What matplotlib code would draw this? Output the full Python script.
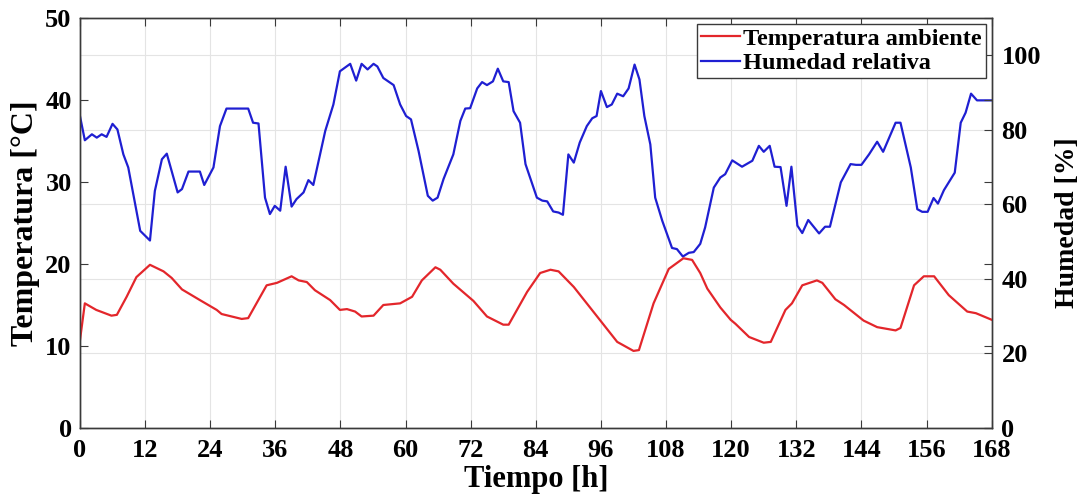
import matplotlib.pyplot as plt

plt.rcParams['font.family'] = ['Liberation Serif', 'DejaVu Serif']
plt.rcParams['font.weight'] = 'bold'

# temperature (left axis)
temp_h = [0, 0.9, 3, 5.8, 6.8, 8.6, 10.4, 12.9, 15.4, 16.9, 18.8, 22.1, 25.2, 26.1,
          29.8, 31.0, 34.4, 36.3, 39.0, 40.3, 41.8, 43.3, 46.1, 47.9, 49.2, 50.7,
          51.9, 54.1, 55.9, 59.0, 61.2, 63.0, 65.5, 66.4, 68.8, 72.5, 75.0, 78.0,
          79.0, 82.4, 84.8, 86.7, 88.2, 91.0, 95.3, 99.0, 102.0, 103.0, 105.7,
          108.5, 111.2, 112.8, 114.3, 115.6, 118.0, 119.9, 120.8, 123.3, 126.0,
          127.3, 130.0, 131.2, 133.1, 135.8, 136.8, 139.2, 140.8, 144.4, 146.9,
          150.3, 151.2, 153.7, 155.5, 157.4, 160.1, 163.5, 165.1, 168]
temp_v = [10.7, 15.2, 14.4, 13.7, 13.8, 16.0, 18.4, 19.9, 19.1, 18.3, 16.9, 15.6, 14.4, 13.9,
          13.3, 13.4, 17.4, 17.7, 18.5, 18.0, 17.8, 16.8, 15.6, 14.4, 14.5, 14.2,
          13.6, 13.7, 15.0, 15.2, 16.0, 18.0, 19.6, 19.3, 17.6, 15.5, 13.6, 12.6,
          12.6, 16.6, 18.9, 19.3, 19.1, 17.2, 13.6, 10.5, 9.4, 9.5, 15.2,
          19.4, 20.7, 20.5, 18.9, 17.0, 14.7, 13.2, 12.7, 11.1, 10.4,
          10.5, 14.4, 15.2, 17.4, 18.0, 17.7, 15.7, 15.0, 13.1, 12.3,
          11.9, 12.2, 17.4, 18.5, 18.5, 16.2, 14.2, 14.0, 13.2]

# relative humidity (right axis)
hum_h = [0, 0.9, 2.2, 3.1, 4.0, 4.9, 6.0, 6.9, 8.0, 8.9, 11.1, 12.9, 13.8, 15.1, 16.0,
         18.0, 18.8, 20.0, 22.1, 22.9, 24.6, 25.8, 27.0, 31.0, 31.9, 32.9, 34.1,
         35.0, 35.9, 36.9, 37.9, 39.0, 39.9, 41.2, 42.1, 43.0, 45.2, 46.7, 47.9,
         49.8, 50.9, 51.9, 53.0, 54.1, 54.8, 55.9, 57.8, 59.0, 60.1, 61.0, 62.4,
         64.1, 65.0, 65.9, 67.0, 68.8, 70.1, 71.0, 71.9, 73.2, 74.1, 75.0, 76.1,
         77.0, 78.0, 79.0, 79.9, 81.1, 82.1, 84.2, 85.2, 86.1, 87.2, 88.2, 89.0,
         90.0, 91.0, 92.1, 93.4, 94.4, 95.2, 96.0, 97.1, 98.0, 99.0, 100.1, 101.1,
         102.2, 103.1, 104.0, 105.1, 106.0, 107.3, 109.1, 110.0, 111.1, 112.2,
         113.1, 114.3, 115.2, 116.8, 118.0, 118.9, 120.2, 122.0, 123.9, 125.1,
         126.0, 127.1, 128.0, 129.1, 130.2, 131.1, 132.2, 133.1, 134.2, 136.2,
         137.3, 138.2, 140.2, 142.0, 143.0, 144.0, 145.4, 146.9, 148.0, 150.3,
         151.2, 153.1, 154.3, 155.2, 156.2, 157.3, 158.1, 159.2, 161.2, 162.3,
         163.2, 164.2, 165.3, 168]
hum_v = [83.7, 77.2, 78.8, 77.9, 78.8, 78.1, 81.6, 80.1, 73.4, 69.9, 52.9, 50.3, 63.6, 72.1, 73.6,
         63.2, 64.1, 68.8, 68.8, 65.2, 69.9, 81.0, 85.7, 85.7, 81.9, 81.7, 61.8,
         57.4, 59.6, 58.3, 70.1, 59.4, 61.4, 63.2, 66.5, 65.2, 79.7, 86.8, 95.7,
         97.7, 93.2, 97.7, 96.2, 97.7, 97.0, 93.9, 92.0, 86.8, 83.7, 82.8, 74.3,
         62.3, 61.0, 61.8, 66.8, 73.4, 82.4, 85.7, 85.8, 91.1, 92.8, 92.0, 93.0,
         96.4, 93.0, 92.8, 85.0, 81.9, 70.8, 61.8, 61.0, 60.8, 58.1, 57.8, 57.2,
         73.4, 71.2, 76.6, 81.0, 83.1, 83.7, 90.4, 86.1, 86.8, 89.7, 89.0, 91.1,
         97.5, 93.5, 83.7, 76.1, 61.8, 55.6, 48.3, 48.0, 46.0, 47.0,
         47.2, 49.4, 53.8, 64.5, 67.2, 68.1, 71.8, 70.1, 71.7, 75.7,
         74.1, 75.7, 70.1, 70.0, 59.6, 70.1, 54.3, 52.3, 55.8, 52.2,
         54.0, 54.0, 65.9, 70.8, 70.6, 70.6, 73.4, 76.8, 74.1, 81.9,
         81.9, 69.9, 58.7, 58.0, 58.0, 61.7, 60.2, 63.8, 68.5, 81.9,
         84.6, 89.7, 87.9, 87.9]

x_ticks = list(range(0, 169, 12))
left_ticks = [0, 10, 20, 30, 40, 50]
right_ticks = [0, 20, 40, 60, 80, 100]

RED = '#e3262b'
BLUE = '#1f1fd2'
AX = '#3a3a3a'
GRIDC = '#e4e4e4'

fig = plt.figure(figsize=(10.82, 5.04), dpi=100)
ax = fig.add_axes([0.0739, 0.1508, 0.8426, 0.8135])
ax2 = ax.twinx()

ax2.grid(True, color=GRIDC, lw=0.8)
ax2.set_axisbelow(True)
for xv in x_ticks[1:-1]:
    ax2.axvline(xv, color=GRIDC, lw=0.8, zorder=0)

l1, = ax.plot(temp_h, temp_v, color=RED, lw=1.6, label='Temperatura ambiente')
l2, = ax2.plot(hum_h, hum_v, color=BLUE, lw=1.6, label='Humedad relativa')

# temperature axis on top so both curves show
ax.set_zorder(ax2.get_zorder() + 1)
ax.patch.set_visible(False)

ax.set_xlim(0, 168)
ax.set_ylim(0, 50)
ax2.set_ylim(0, 110)
ax.set_xticks(x_ticks)
ax.set_yticks(left_ticks)
ax2.set_yticks(right_ticks)

for a in (ax, ax2):
    for s in a.spines.values():
        s.set_color(AX)
        s.set_linewidth(1.0)
ax.tick_params(direction='in', top=True, right=True, length=6, color=AX,
               labelsize=19, pad=6, labelcolor='black')
ax.tick_params(axis='x', pad=8)
ax2.tick_params(direction='in', length=6, color=AX, labelsize=19, pad=7)

ax.set_xlabel('Tiempo [h]', fontsize=22, fontweight='bold', labelpad=2)
ax.set_ylabel('Temperatura [°C]', fontsize=23, fontweight='bold', labelpad=4)
ax2.set_ylabel('Humedad [%]', fontsize=20, fontweight='bold', labelpad=10)

leg = ax.legend(handles=[l1, l2], loc='upper right', fontsize=17.5,
                frameon=True, fancybox=False, framealpha=1, edgecolor=AX,
                handlelength=1.6, handletextpad=0.15, borderpad=0.15,
                labelspacing=0.1, borderaxespad=0.25)
leg.get_frame().set_linewidth(1.0)

fig.savefig('out.png', dpi=100)
